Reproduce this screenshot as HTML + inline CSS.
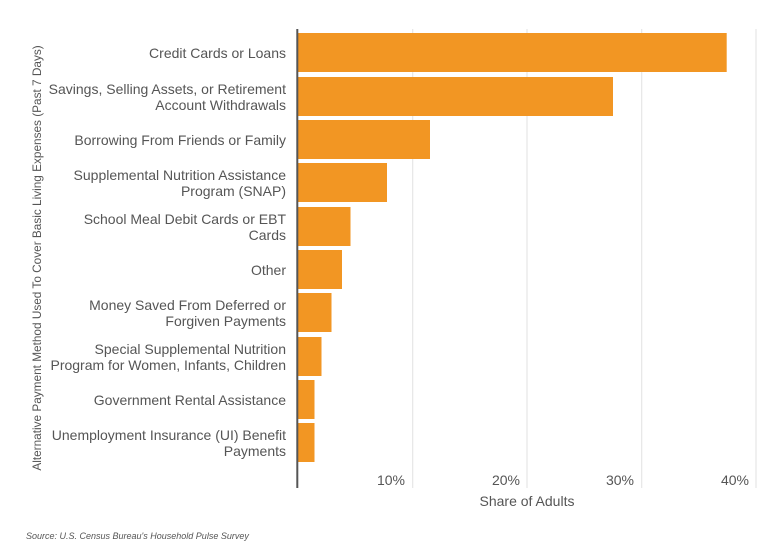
<!DOCTYPE html>
<html><head><meta charset="utf-8"><style>
body{margin:0;background:#fff;}
svg{display:block;font-family:"Liberation Sans",Arial,sans-serif;}
</style></head><body>
<svg width="780" height="544" viewBox="0 0 780 544" xmlns="http://www.w3.org/2000/svg">
<g stroke="#e6e6e6" stroke-width="1.2">
<line x1="412.7" y1="29" x2="412.7" y2="488"/>
<line x1="527" y1="29" x2="527" y2="488"/>
<line x1="641.7" y1="29" x2="641.7" y2="488"/>
<line x1="756" y1="29" x2="756" y2="488"/>
</g>
<g fill="#f29623">
<rect x="298" y="33" width="428.7" height="39"/>
<rect x="298" y="77" width="315" height="39"/>
<rect x="298" y="120" width="132" height="39"/>
<rect x="298" y="163" width="89" height="39"/>
<rect x="298" y="207" width="52.5" height="39"/>
<rect x="298" y="250" width="44" height="39"/>
<rect x="298" y="293" width="33.5" height="39"/>
<rect x="298" y="337" width="23.5" height="39"/>
<rect x="298" y="380" width="16.5" height="39"/>
<rect x="298" y="423" width="16.5" height="39"/>
</g>
<line x1="297.3" y1="29" x2="297.3" y2="488" stroke="#555" stroke-width="2"/>
<g fill="#555" font-size="14" text-anchor="end">
<text x="286" y="58">Credit Cards or Loans</text>
<text x="286" y="94">Savings, Selling Assets, or Retirement</text>
<text x="286" y="110">Account Withdrawals</text>
<text x="286" y="145">Borrowing From Friends or Family</text>
<text x="286" y="180">Supplemental Nutrition Assistance</text>
<text x="286" y="196">Program (SNAP)</text>
<text x="286" y="224">School Meal Debit Cards or EBT</text>
<text x="286" y="240">Cards</text>
<text x="286" y="275">Other</text>
<text x="286" y="310">Money Saved From Deferred or</text>
<text x="286" y="326">Forgiven Payments</text>
<text x="286" y="354">Special Supplemental Nutrition</text>
<text x="286" y="370">Program for Women, Infants, Children</text>
<text x="286" y="405">Government Rental Assistance</text>
<text x="286" y="440">Unemployment Insurance (UI) Benefit</text>
<text x="286" y="456">Payments</text>
<text x="405" y="485">10%</text>
<text x="520" y="485">20%</text>
<text x="634" y="485">30%</text>
<text x="749" y="485">40%</text>
</g>
<text x="527" y="506" fill="#555" font-size="14" text-anchor="middle">Share of Adults</text>
<text transform="translate(41,258) rotate(-90)" fill="#555" font-size="11.8" text-anchor="middle">Alternative Payment Method Used To Cover Basic Living Expenses (Past 7 Days)</text>
<text x="26" y="539" fill="#555" font-size="9" font-style="italic">Source: U.S. Census Bureau's Household Pulse Survey</text>
</svg>
</body></html>
